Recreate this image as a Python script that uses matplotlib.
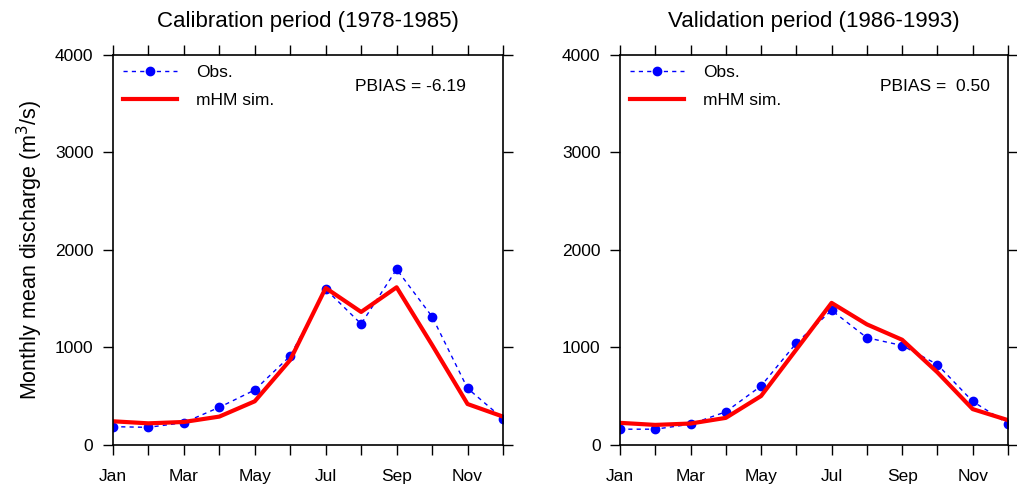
import numpy as np
import matplotlib
matplotlib.use("Agg")
import matplotlib.pyplot as plt

plt.rcParams['font.family'] = ['Liberation Sans', 'DejaVu Sans']

months = np.arange(1, 13)
tick_months = [1, 3, 5, 7, 9, 11]
tick_labels = ["Jan", "Mar", "May", "Jul", "Sep", "Nov"]

# calibration period (1978-1985)
cal_obs = [188, 181, 229, 386, 564, 913, 1597, 1241, 1802, 1316, 581, 270]
cal_sim = [243, 222, 236, 291, 448, 872, 1610, 1364, 1617, 1026, 420, 291]
cal_pbias = "PBIAS = -6.19"

# validation period (1986-1993)
val_obs = [162, 162, 213, 340, 605, 1045, 1381, 1100, 1020, 825, 447, 220]
val_sim = [227, 206, 220, 278, 502, 979, 1457, 1237, 1079, 745, 368, 255]
val_pbias = "PBIAS =  0.50"

fig = plt.figure(figsize=(10.17, 4.84), dpi=100)
ax1 = fig.add_axes([0.111, 0.0806, 0.3836, 0.806])
ax2 = fig.add_axes([0.6096, 0.0806, 0.3815, 0.806])

panels = [
    (ax1, cal_obs, cal_sim, cal_pbias, 0.62, "Calibration period (1978-1985)"),
    (ax2, val_obs, val_sim, val_pbias, 0.67, "Validation period (1986-1993)"),
]

for ax, obs, sim, pbias, px, title in panels:
    ax.plot(months, obs, linestyle=(0, (3, 3)), color='blue', lw=1.0,
            marker='o', markersize=6, label="Obs.")
    ax.plot(months, sim, color='red', lw=3, label="mHM sim.")
    ax.set_xlim(1, 12)
    ax.set_ylim(0, 4000)
    ax.set_xticks(tick_months)
    ax.set_xticklabels(tick_labels)
    ax.set_xticks(months, minor=True)
    ax.set_yticks([0, 1000, 2000, 3000, 4000])
    ax.tick_params(which='both', direction='out', length=7, width=1,
                   top=True, right=True, labelsize=12.5, pad=7)
    ax.tick_params(axis='x', which='both', pad=10)
    for s in ax.spines.values():
        s.set_linewidth(1.2)
    ax.set_title(title, fontsize=16, pad=20)
    ax.text(px, 0.918, pbias, transform=ax.transAxes, fontsize=12.5,
            va='center', ha='left')
    ax.legend(loc='upper left', frameon=False, fontsize=12.5,
              handlelength=3.1, handletextpad=1.1, borderaxespad=0.3,
              labelspacing=0.7, borderpad=0.3)

ax1.set_ylabel("Monthly mean discharge (m$^3$/s)", fontsize=15.5, labelpad=7)

fig.savefig("out.png", dpi=100)
